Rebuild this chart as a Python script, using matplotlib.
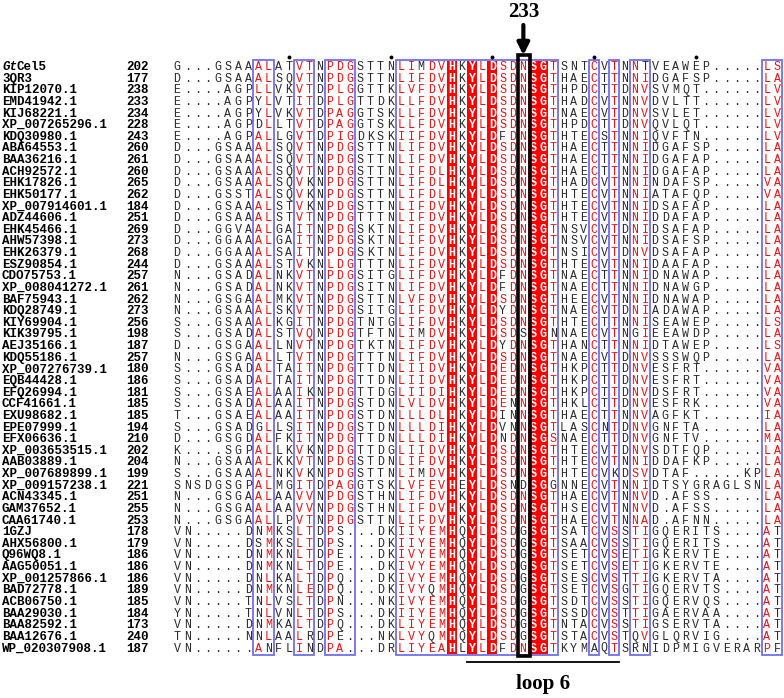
import matplotlib
matplotlib.use('Agg')
import matplotlib.pyplot as plt
from matplotlib.patches import Rectangle

names = ["GtCel5", "3QR3", "KIP12070.1", "EMD41942.1", "KIJ68221.1", "XP_007265296.1",
         "KDQ30980.1", "ABA64553.1", "BAA36216.1", "ACH92572.1", "EHK17826.1", "EHK50177.1",
         "XP_007914601.1", "ADZ44606.1", "EHK45466.1", "AHW57398.1", "EHK26379.1", "ESZ90854.1",
         "CDO75753.1", "XP_008041272.1", "BAF75943.1", "KDQ28749.1", "KIY69904.1", "KIK39795.1",
         "AEJ35166.1", "KDQ55186.1", "XP_007276739.1", "EQB44428.1", "EFQ26994.1", "CCF41661.1",
         "EXU98682.1", "EPE07999.1", "EFX06636.1", "XP_003653515.1", "AAB03889.1", "XP_007689899.1",
         "XP_009157238.1", "ACN43345.1", "GAM37652.1", "CAA61740.1", "1GZJ", "AHX56800.1",
         "Q96WQ8.1", "AAG50051.1", "XP_001257866.1", "BAD72778.1", "ACB06750.1", "BAA29030.1",
         "BAA82592.1", "BAA12676.1", "WP_020307908.1"]

starts = [202, 177, 238, 233, 234, 228, 243, 260, 261, 260, 265, 262, 184, 251, 269, 273, 268, 244,
          257, 261, 262, 273, 256, 198, 187, 257, 180, 186, 181, 185, 185, 194, 210, 202, 204, 199,
          221, 251, 255, 253, 178, 179, 186, 186, 186, 189, 185, 184, 173, 240, 187]

seq_left = [
    "G...GSAAALATVTNPDGSTTN", "D...GSAAALSQVTNPDGSTTN", "E....AGPLLVKVTDPLGGTTK",
    "E....AGPYLVTITDPLGTTDK", "E....AGPYLVKVTDPAGGTSK", "E....AGPDLLTVTDPAGGTSK",
    "E....AGPALLGVTDPIGDKSK", "D...GSAAALSQVTNPDGSTTN", "D...GSAAALSQVTNPDGSTTN",
    "D...GSAAALSQVTNPDGSTTN", "D...GSAAALSQVKNPDGSTTN", "D...GSSTALSQVKNPDGSTTN",
    "D...GSAAALSTVKNPDGSTTN", "D...GSAAALSTVTNPDGTTTN", "D...GGVAALGAITNPDGSKTN",
    "D...GGAAALGAITNPDGSKTN", "D...GGAAALSAITNPDGSKTN", "D...GSAAALSTVKNLDGTTTN",
    "N...GSADALNKVTNPDGSITG", "N...GSADALNKVTNPDGSITN", "N...GSGAALMKVTNPDGSTTN",
    "N...GSAAALSKVTNPDGSITG", "S...GSAAALKGITNPDGTNTG", "S...GSADALSTVQNPDGTFTN",
    "D...GSGAALLNVTNPDGTKTN", "N...GSGAALLTVTNPDGTTTN", "S...GSADALTAITNPDGTTDN",
    "S...GSADALTAITNPDGTTDN", "S...GSAEALAAIKNPDGTTDG", "S...GSADALAAITNPDGSTDN",
    "T...GSAEALAAITNPDGSTDN", "S...GSADGLLSITNPDGSTDN", "D...GSGDALFKITNPDGTTDN",
    "K....SGPALLKVKNPDGTTDG", "N...GSAAALKKVTNPDGSTDN", "S...GSAAALNKVKNPDGSTTN",
    "SNSDGSGPALMGITDPAGGTSK", "N...GSGAALAAVVNPDGSTHN", "N...GSGAALAAVVNPDGSTHN",
    "N...GSGAALLPVTNPDGSTTN", "VN.....DNMKSLTDPS...DK", "VN.....DSMKSLTDPS...DK",
    "VN.....DNMKNLTDPE...DK", "VN.....DNMKNLTDPE...DK", "VN.....DNLKALTDPQ...DK",
    "VN.....DNMKNLEDPQ...DK", "VN.....TNLVSLTDPN...NK", "YN.....TNLVNLTDPS...DK",
    "VN.....DNMKALTDPQ...DK", "TN.....NNLAALRDPE...NK", "VN......ANFLINDPA...DR"]

seq_mid = [
    "LIMDVHKYLDSDNSGTSN", "LIFDVHKYLDSDNSGTHA", "LVFDVHKYLDSDNSGTHP", "LLFDVHKYLDSDNSGTHA",
    "LLFDVHKYLDSDNSGTNA", "LLFDVHKYLDSDNSGTHP", "IIFDVHKYLDFDNSGTHT", "LIFDVHKYLDSDNSGTHA",
    "LIFDVHKYLDSDNSGTHA", "LIFDLHKYLDSDNSGTHA", "LIFDLHKYLDSDNSGTHA", "LIFDLHKYLDSDNSGTHT",
    "LIFDVHKYLDSDNSGTHT", "LIFDVHKYLDSDNSGTHT", "LIFDVHKYLDSDNSGTNS", "LIFDVHKYLDSDNSGTNS",
    "LIFDVHKYLDSDNSGTNS", "LIFDVHKYLDSDNSGTHT", "LIFDVHKYLDFDNSGTNA", "LIFDVHKYLDFDNSGTNA",
    "LVFDVHKYLDSDNSGTHE", "LIFDVHKYLDYDNSGTNA", "LIFDVHKYLDSDNSGTHT", "LIMDVHKYLDSDSSGNNA",
    "LIFDVHKYLDYDNSGTHA", "LIFDVHKYLDSDNSGTNA", "LIIDVHKYLDEDNSGTHK", "LIIDVHKYLDEDNSGTHK",
    "LIIDIHKYLDEDNSGTHK", "LVLDVHKYLDENNSGTHK", "LLLDLHKYLDINNSGTHA", "LLLDIHKYLDVNNSGTLA",
    "LLLDIHKYLDNDNSGSNA", "LIIDVHKYLDSDNSGTHT", "LIFDVHKYLDSDNSGTHT", "LIMDVHKYLDSDNSGTHT",
    "LVFEVHEYLDSNDSGGNN", "LIFDVHKYLDSDNSGTHA", "LIFDVHKYLDSDNSGTHS", "LIFDVHKYLDSDNSGTHA",
    "IIYEMHQYLDSDGSGTSA", "IIYEMHQYLDSDGSGTSA", "IVYEMHQYLDSDGSGTSE", "IVYEMHQYLDSDGSGTSE",
    "IVYEMHQYLDSDGSGTSE", "IVYQMHQYLDSDGSGTSE", "IVYEMHQYLDSDGSGTSD", "IIYEMHQYLDSDGSGTSS",
    "LIYEMHQYLDSDGSGTNT", "LVYQMHQYLDSDGSGTST", "LIYEAHLYLDFDNSGTKY"]

seq_right = [
    "TCVTNNTVEAWEP.....LS", "ECTTNNIDGAFSP.....LA", "DCTTDNVSVMQT......LV", "DCVTNNVDVLTT......LV",
    "ECVTDNVSVLET......LV", "DCTTDNVQVLQT......LV", "ECSTNNIQVFTN......LV", "ECTTNNIDGAFSP.....LA",
    "ECTTNNIDGAFAP.....LA", "ECTTNNIDGAFAP.....LA", "DCVTNNINDAFSP.....VA", "ECVTNNIATAFQP.....VA",
    "ECVTNNIDSAFAP.....LA", "ECVTNNIDDAFAP.....LA", "VCVTDNIDSAFAP.....LA", "VCVTNNIDSAFSP.....LA",
    "ICVTDNVDSAFAP.....LA", "ECVTNNIDAAFAP.....LA", "ECTTNNIDNAWAP.....LA", "ECTTNNIDNAWGP.....LA",
    "ECVTNNIDNAWAP.....LA", "ECVTDNIADAWAP.....LA", "ECTTNNISEAWEP.....LS", "ECVTNGIEEAWDP.....LA",
    "NCTTNNIDTAWEP.....LS", "ECVTDNVSSSWQP.....LA", "PCTTDNVESFRT......VA", "PCTTDNVESFRT......VA",
    "PCTTDNVDSFRT......VA", "LCTTDNVESFRK......VA", "ECTTNNVAGFKT......IA", "SCNTDNVGNFTA......LA",
    "ECTTDNVGNFTV......MA", "ECVTDNVSDTFQP.....LA", "ECVTNNIDDAFKP.....LA", "ECVKDSVDTAF.....KPLA",
    "ECVTNNIDTSYGRAGLSNLA", "ECVTNNVD.AFSS.....LA", "ECVTNNVD.AFSS.....LA", "ECVTNNAD.AFNN.....LA",
    "TCVSSTIGQERITS....AT", "ACVSSTIGQERITS....AT", "TCVSETIGKERVTE....AT", "TCVSETIGKERVTE....AT",
    "SCVSTTIGKERVTA....AT", "TCVSGTIGQERVTS....AT", "TCVSSTIGQERVQS....AT", "DCVSTTIGAERVAA....AT",
    "ACVSSTIGSERVTA....AT", "ACVSTQVGLQRVIG....AT", "MAQTSRNIDPMIGVERARPF"]

seqs = [a + b + c for a, b, c in zip(seq_left, seq_mid, seq_right)]

# alignment annotation
fill_cols = [27, 29, 31, 35, 36]
boxes = [(8, 9), (12, 13), (15, 17), (22, 37), (41, 41), (43, 43), (45, 46), (58, 59)]
red_sets = {8: 'AL', 9: 'LMF', 12: 'VILT', 13: 'TVIQEL', 15: 'PL', 16: 'DLAI', 17: 'G',
            22: 'LIVK', 23: 'IVL', 24: 'FILYV', 25: 'DE', 26: 'VLIMA', 28: '', 30: 'L',
            32: 'SE', 33: 'D', 34: 'N', 37: 'TS', 41: 'C', 43: 'TS', 45: 'NTS', 46: 'IVA',
            58: 'LVIMAP', 59: 'SAV'}
mark_cols = [11, 21, 31, 41, 51]
site_col = 34
site_label = "233"
loop_cols = (29, 43)
loop_label = "loop 6"

W, H = 784, 698
fig = plt.figure(figsize=(W / 100, H / 100), dpi=100)
ax = fig.add_axes([0, 0, 1, 1])
ax.set_xlim(0, W)
ax.set_ylim(H, 0)
ax.axis('off')

X0, PITCH = 172.0, 10.17
Y0, ROWH = 67.0, 11.63
n = len(seqs)

def cx(c):
    return X0 + (c + 0.5) * PITCH

def cy(r):
    return Y0 + r * ROWH

top = cy(0) - ROWH / 2
bot = cy(n - 1) + ROWH / 2

RED = '#f01010'
BLUE = '#7070ee'
GREY = '#2a2a2a'

in_box = set()
for a, b in boxes:
    in_box.update(range(a, b + 1))

for c in fill_cols:
    ax.add_patch(Rectangle((X0 + c * PITCH, top), PITCH, bot - top, facecolor='#ff0000',
                           edgecolor='none', zorder=1))
for a, b in boxes:
    ax.add_patch(Rectangle((X0 + a * PITCH, top - 1), (b - a + 1) * PITCH, bot - top + 2,
                           facecolor='none', edgecolor=BLUE, lw=1.3, zorder=2))

# black frame around site column
ax.add_patch(Rectangle((X0 + site_col * PITCH + 0.5, top - 6), PITCH + 1.2, bot - top + 8,
                       facecolor='none', edgecolor='black', lw=2.6, zorder=4))

for r, s in enumerate(seqs):
    y = cy(r)
    for c, ch in enumerate(s):
        if c in fill_cols:
            ax.text(cx(c), y, ch, color='white', fontsize=8.4, fontweight='bold',
                    family='Liberation Mono', ha='center', va='center', zorder=3)
            continue
        col = GREY
        if c in in_box and ch in red_sets.get(c, ch):
            col = RED
        ax.text(cx(c), y, ch, color=col, fontsize=8.4, family='Liberation Mono',
                ha='center', va='center', zorder=3)
    ax.text(2, y, names[r] if r else "", fontsize=9.0, fontweight='bold',
            family='Liberation Mono', ha='left', va='center', color='black')
    ax.text(149, y, str(starts[r]), fontsize=9.0, fontweight='bold',
            family='Liberation Mono', ha='right', va='center', color='black')

# italic genus prefix for first name
cw = 0.6 * 9.0 * 100 / 72
ax.text(2, cy(0), names[0][:2], fontsize=9.0, fontweight='bold', style='italic',
        family='Liberation Mono', ha='left', va='center')
ax.text(2 + 2 * cw, cy(0), names[0][2:], fontsize=9.0, fontweight='bold',
        family='Liberation Mono', ha='left', va='center')

for c in mark_cols:
    ax.plot(cx(c), top - 4.5, marker='o', ms=1.8, color='black', zorder=3)

ax.annotate('', xy=(cx(site_col) + 0.5, top - 6), xytext=(cx(site_col) + 0.5, 25),
            arrowprops=dict(arrowstyle='-|>,head_width=0.35,head_length=0.7', lw=3,
                            color='black', shrinkA=0, shrinkB=0))
ax.text(cx(site_col) + 0.5, 12, site_label, fontsize=15, fontweight='bold',
        family='Liberation Serif', ha='center', va='center')

ly = bot + 8
ax.plot([X0 + loop_cols[0] * PITCH, X0 + (loop_cols[1] + 1) * PITCH], [ly, ly],
        color='black', lw=1.3)
ax.text((X0 + loop_cols[0] * PITCH + X0 + (loop_cols[1] + 1) * PITCH) / 2, ly + 22,
        loop_label, fontsize=15, fontweight='bold', family='Liberation Serif',
        ha='center', va='center')

fig.savefig('out.png', dpi=100)
